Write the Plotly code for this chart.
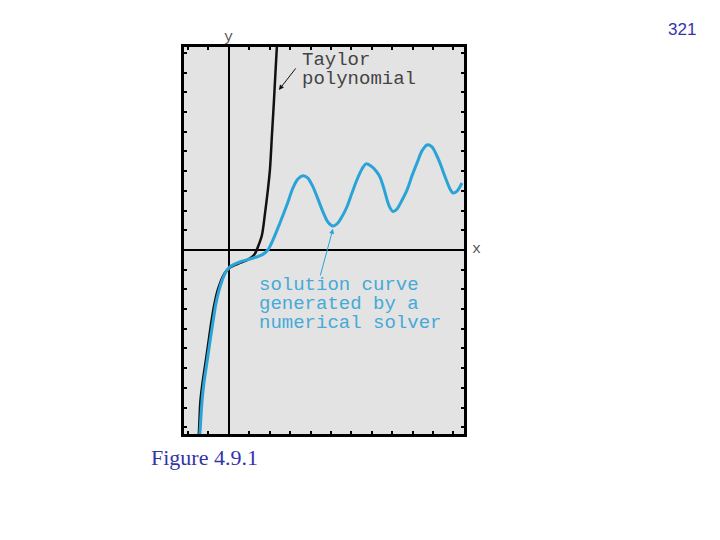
import plotly.graph_objects as go

# Numerical solver curve (blue) in tick units
solver_x = [-1.47, -1.42, -1.32, -1.23, -1.08, -0.93, -0.78, -0.64, -0.49, -0.34, -0.15, 0.05,
            0.54, 1.03, 1.62, 1.91, 2.16, 2.50, 2.84, 3.14, 3.38, 3.63, 3.87, 4.12,
            4.36, 4.61, 4.85, 5.10, 5.34, 5.59, 5.78, 6.03, 6.27, 6.52, 6.72, 6.96,
            7.21, 7.40, 7.60, 7.75, 7.89, 8.04, 8.24, 8.48, 8.73, 8.97, 9.22, 9.46,
            9.71, 9.95, 10.15, 10.34, 10.54, 10.69, 10.83, 10.98, 11.18, 11.42]
solver_y = [-9.90, -9.29, -7.72, -6.80, -5.74, -4.67, -3.65, -2.74, -2.08, -1.57, -1.12, -0.86,
            -0.61, -0.46, -0.25, 0.00, 0.51, 1.37, 2.28, 3.15, 3.60, 3.76, 3.65, 3.20,
            2.59, 1.93, 1.42, 1.22, 1.37, 1.78, 2.18, 2.89, 3.55, 4.11, 4.37, 4.26,
            4.01, 3.71, 3.10, 2.54, 2.15, 1.95, 2.08, 2.52, 3.05, 3.76, 4.42, 5.03,
            5.33, 5.23, 4.87, 4.42, 3.86, 3.45, 3.10, 2.89, 2.99, 3.40]

# Taylor polynomial (black)
taylor_x = [-1.52, -1.47, -1.40, -1.30, -1.15, -1.00, -0.86, -0.71, -0.56, -0.39, -0.20, 0.05,
            0.54, 0.88, 1.13, 1.27, 1.42, 1.62, 1.76, 1.91, 2.01, 2.11, 2.21, 2.35, 2.45]
taylor_y = [-9.90, -9.29, -7.72, -6.80, -5.74, -4.67, -3.65, -2.74, -2.08, -1.57, -1.17, -0.89,
            -0.66, -0.51, -0.36, -0.20, 0.15, 0.76, 1.78, 3.05, 4.06, 5.84, 7.61, 10.30, 11.73]

X_RANGE = [-2.2, 11.52]
Y_RANGE = [-9.34, 10.30]

_BLUE = "#2aa3d6"
_TXT_BLUE = "#45aad8"
_MONO = "Liberation Mono, Courier New, monospace"
_SLIDE = "#3434a8"


def _mono(text, x, y, color, size=19):
    # fixed box height so the tightly stacked lines don't overlap
    return dict(x=x, y=y, text=text, xanchor="left", yanchor="middle", showarrow=False,
                height=18, valign="middle",
                font={"family": _MONO, "size": size, "color": color})


fig = go.Figure()
fig.add_trace(go.Scatter(
    x=taylor_x, y=taylor_y, mode="lines",
    line={"color": "#111111", "width": 2.5, "shape": "spline", "smoothing": 0.8},
    hoverinfo="skip",
))
fig.add_trace(go.Scatter(
    x=solver_x, y=solver_y, mode="lines",
    line={"color": _BLUE, "width": 3, "shape": "spline", "smoothing": 0.8},
    hoverinfo="skip",
))

annotations = [
    # curve labels
    _mono("Taylor", 3.50, 9.64, "#444444"),
    _mono("polynomial", 3.50, 8.68, "#444444"),
    dict(x=2.45, y=8.12, ax=3.33, ay=9.29, axref="x", ayref="y", text="",
         showarrow=True, arrowhead=2, arrowsize=1, arrowwidth=1, arrowcolor="#111111"),
    _mono("solution curve", 1.38, -1.78, _TXT_BLUE),
    _mono("generated by a", 1.38, -2.74, _TXT_BLUE),
    _mono("numerical solver", 1.38, -3.71, _TXT_BLUE),
    dict(x=5.10, y=1.07, ax=4.46, ay=-1.37, axref="x", ayref="y", text="",
         showarrow=True, arrowhead=2, arrowsize=1, arrowwidth=1, arrowcolor=_BLUE),
    # axis letters
    dict(x=0, y=0.998, xref="x", yref="paper", text="y", showarrow=False, yanchor="bottom",
         font={"family": _MONO, "size": 15, "color": "#555555"}),
    dict(x=1.068, y=0, xref="paper", yref="y", text="x", showarrow=False,
         font={"family": _MONO, "size": 15, "color": "#555555"}),
    # slide text
    dict(x=-0.125, y=-0.06, xref="paper", yref="paper", text="Figure 4.9.1",
         xanchor="left", yanchor="middle", showarrow=False,
         font={"family": "Liberation Serif, Times New Roman, serif", "size": 22, "color": _SLIDE}),
    dict(x=1.836, y=1.044, xref="paper", yref="paper", text="321",
         xanchor="right", yanchor="middle", showarrow=False,
         font={"family": "Liberation Sans, Arial, sans-serif", "size": 17, "color": _SLIDE}),
]

_axis = dict(
    showgrid=False, showticklabels=False,
    zeroline=True, zerolinecolor="#000000", zerolinewidth=2,
    showline=True, linecolor="#000000", linewidth=2.5, mirror="ticks",
    ticks="inside", ticklen=3, tickwidth=1.5, tickcolor="#000000",
    tick0=0, dtick=1,
)

fig.update_layout(
    width=720, height=540,
    paper_bgcolor="#ffffff", plot_bgcolor="#e3e3e3",
    margin={"l": 176, "r": 264, "t": 39, "b": 114},
    showlegend=False,
    xaxis={**_axis, "range": X_RANGE},
    yaxis={**_axis, "range": Y_RANGE},
    annotations=annotations,
)

fig.write_html("out.html")
